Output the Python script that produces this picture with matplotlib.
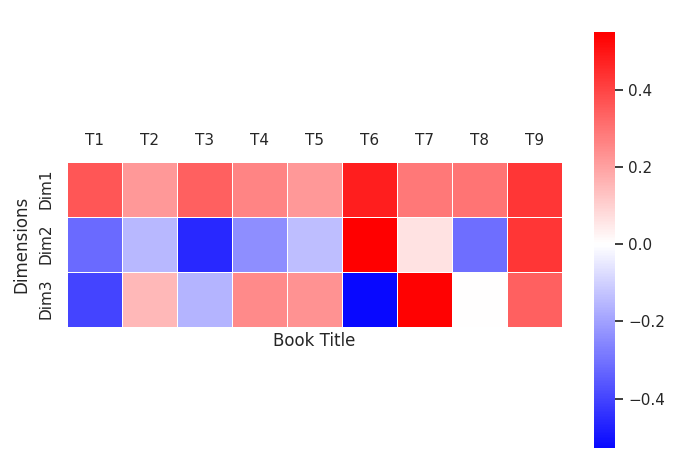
import matplotlib
matplotlib.use("Agg")
import matplotlib.pyplot as plt
import seaborn as sns
import pandas as pd

book_titles = ["T1", "T2", "T3", "T4", "T5", "T6", "T7", "T8", "T9"]
dimensions = ["Dim1", "Dim2", "Dim3"]

dim1 = [0.36, 0.22, 0.34, 0.26, 0.22, 0.48, 0.29, 0.30, 0.43]
dim2 = [-0.32, -0.15, -0.46, -0.24, -0.14, 0.549, 0.065, -0.31, 0.43]
dim3 = [-0.40, 0.15, -0.16, 0.25, 0.23, -0.528, 0.54, 0.003, 0.34]

sns.set_theme()

df = pd.DataFrame([dim1, dim2, dim3], index=dimensions, columns=book_titles)

fig = plt.figure(figsize=(6.77, 4.70), dpi=100)
ax = fig.add_axes([67 / 677, 13 / 470, 495 / 677, 426 / 470])
cax = fig.add_axes([594 / 677, 22 / 470, 21 / 677, 416 / 470])

sns.heatmap(df, ax=ax, cbar_ax=cax, cmap="bwr", center=0, square=True,
            linewidths=0.5, linecolor="white")

ax.xaxis.tick_top()
ax.set_xlabel("Book Title")
ax.set_ylabel("Dimensions", labelpad=6)
ax.tick_params(axis="both", length=0)
ax.tick_params(axis="x", rotation=0, labelsize=11, pad=9.5)
ax.tick_params(axis="y", rotation=90, labelsize=11, pad=9.5)
for lbl in ax.get_yticklabels():
    lbl.set_va("center")
cax.tick_params(labelsize=11)

fig.savefig("out.png", dpi=100, facecolor="white")
